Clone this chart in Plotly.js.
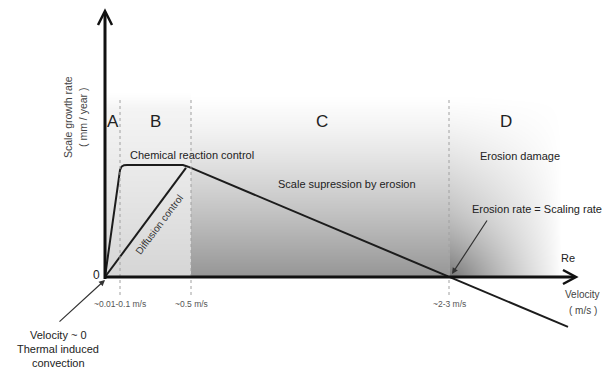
<!DOCTYPE html>
<html>
<head>
<meta charset="utf-8">
<script src="https://cdn.plot.ly/plotly-3.0.1.min.js"></script>
<style>html,body{margin:0;padding:0;background:#fff;}#chart{width:608px;height:369px;}</style>
</head>
<body>
<div id="chart"></div>
<script>
// ---- Schematic data (arbitrary units: velocity along x, growth rate along y) ----
const reactionX = [0, 0.14, 0.15, 0.165, 0.19, 0.22, 0.78, 0.83];
const reactionY = [0, 0.90, 0.955, 0.985, 0.998, 1.0, 1.0, 0.985];
const diffusionX = [0, 0.81];
const diffusionY = [0, 0.975];
const erosionX = [0.83, 3.44, 4.63];
const erosionY = [0.985, 0, -0.446];
const boundaryX = [0.15, 0.86, 3.44];
const boundaryLabels = ["~0.01-0.1 m/s", "~0.5 m/s", "~2-3 m/s"];
const regionLabels = ["A", "B", "C", "D"];
const regionX = [0.08, 0.50, 2.17, 4.01];

// pixel -> data helpers (layout placement only)
const X = px => (px - 105) / 100;
const Y = py => (277 - py) / 112;

// background shading image (decoration)
function shadeImage() {
  const x0 = 105, x1 = 570, y0 = 92, y1 = 277;
  const w = x1 - x0, h = y1 - y0;
  const c = document.createElement('canvas');
  c.width = w; c.height = h;
  const ctx = c.getContext('2d');
  const img = ctx.createImageData(w, h);
  for (let j = 0; j < h; j++) {
    const py = y0 + j;
    const t = Math.max(0, (py - 100) / 177);
    const topFade = Math.min(1, Math.max(0, (py - 92) / 16));
    for (let i = 0; i < w; i++) {
      const px = x0 + i;
      let dark;
      if (px < 191) {
        dark = (10 + 32 * Math.pow(t, 1.1)) * topFade;
      } else {
        dark = 104 * Math.pow(t, 1.25) + 2 * topFade;
        if (px > 449) {
          let f = Math.max(0, 1 - (px - 449) / 112);
          const r = Math.hypot(px - 452, (277 - py) * 1.2);
          const blob = Math.max(0, 1 - r / 90);
          dark = dark * Math.pow(f, 0.85) + 30 * blob * blob;
        }
      }
      const g = 255 - dark;
      const k = (j * w + i) * 4;
      img.data[k] = img.data[k + 1] = img.data[k + 2] = Math.round(g);
      img.data[k + 3] = 255;
    }
  }
  ctx.putImageData(img, 0, 0);
  return {url: c.toDataURL('image/png'), x: X(x0), y: Y(y0), sx: (x1 - x0) / 100, sy: (y1 - y0) / 112};
}
const bg = shadeImage();

const lineStyle = {color: '#1c1c1c', width: 2};
const traces = [
  {x: reactionX, y: reactionY, mode: 'lines', line: lineStyle, hoverinfo: 'skip', cliponaxis: false},
  {x: diffusionX, y: diffusionY, mode: 'lines', line: lineStyle, hoverinfo: 'skip', cliponaxis: false},
  {x: erosionX, y: erosionY, mode: 'lines', line: lineStyle, hoverinfo: 'skip', cliponaxis: false}
];

const font = 'Liberation Sans, Arial, sans-serif';
const txt = (text, px, py, size, extra) => Object.assign({
  text: text, x: X(px), y: Y(py), xref: 'x', yref: 'y', showarrow: false,
  font: {family: font, size: size, color: '#222'}, xanchor: 'center', yanchor: 'middle'
}, extra || {});

const annotations = [];
regionLabels.forEach((l, i) => annotations.push(Object.assign(txt(l, 0, 121, 17), {x: regionX[i]})));
boundaryLabels.forEach((l, i) => annotations.push(Object.assign(txt(l, 0, 304, 8.5, {font: {family: font, size: 8.5, color: '#555'}}), {x: boundaryX[i]})));
annotations.push(txt('0', 96, 275, 12));
annotations.push(txt('Scale growth rate', 68, 117, 10.5, {textangle: -90, font: {family: font, size: 10.5, color: '#444'}}));
annotations.push(txt('( mm / year )', 83, 117, 10.5, {textangle: -90, font: {family: font, size: 10.5, color: '#444'}}));
annotations.push(txt('Chemical reaction control', 192, 155, 11));
annotations.push(txt('Diffusion control', 159, 224, 10, {textangle: -53, font: {family: font, size: 10, color: '#333'}}));
annotations.push(txt('Scale supression by erosion', 347, 184, 11));
annotations.push(txt('Erosion damage', 520, 156, 11));
annotations.push(txt('Erosion rate = Scaling rate', 537, 209, 11));
annotations.push(txt('Re', 568, 258, 11));
annotations.push(txt('Velocity', 582, 294, 10, {font: {family: font, size: 10, color: '#444'}}));
annotations.push(txt('( m/s )', 583, 310, 10, {font: {family: font, size: 10, color: '#444'}}));
annotations.push(txt('Velocity ~ 0', 58, 335, 11));
annotations.push(txt('Thermal induced', 58, 349, 11));
annotations.push(txt('convection', 58, 363, 11));
// pointer arrows
annotations.push({x: X(105), y: Y(280), xref: 'x', yref: 'y', text: '', showarrow: true,
  ax: -47, ay: 43, arrowhead: 2, arrowsize: 1, arrowwidth: 1.2, arrowcolor: '#333', standoff: 0});
annotations.push({x: X(452), y: Y(274), xref: 'x', yref: 'y', text: '', showarrow: true,
  ax: 36, ay: -55, arrowhead: 2, arrowsize: 1, arrowwidth: 1.2, arrowcolor: '#333', standoff: 0});

const shapes = [];
boundaryX.forEach(bx => shapes.push({type: 'line', xref: 'x', yref: 'y', x0: bx, x1: bx, y0: Y(100), y1: Y(296),
  line: {color: '#a0a0a0', width: 1, dash: 'dot'}, layer: 'above'}));
// axes with open arrowheads
shapes.push({type: 'line', xref: 'x', yref: 'y', x0: 0, x1: 0, y0: Y(279), y1: Y(12), line: {color: '#111', width: 3}});
shapes.push({type: 'path', xref: 'x', yref: 'y', path: `M ${X(98)},${Y(25)} L ${X(105)},${Y(11)} L ${X(112)},${Y(25)}`, line: {color: '#111', width: 2.5}});
shapes.push({type: 'line', xref: 'x', yref: 'y', x0: X(104), x1: X(575), y0: 0, y1: 0, line: {color: '#111', width: 3}});
shapes.push({type: 'path', xref: 'x', yref: 'y', path: `M ${X(563)},${Y(270)} L ${X(576)},${Y(277)} L ${X(563)},${Y(284)}`, line: {color: '#111', width: 2.5}});

const layout = {
  width: 608, height: 369, autosize: false,
  margin: {l: 0, r: 0, t: 0, b: 0, pad: 0},
  paper_bgcolor: '#fff', plot_bgcolor: '#fff',
  showlegend: false,
  xaxis: {range: [X(0), X(608)], visible: false, fixedrange: true},
  yaxis: {range: [Y(369), Y(0)], visible: false, fixedrange: true},
  images: [{source: bg.url, xref: 'x', yref: 'y', x: bg.x, y: bg.y, sizex: bg.sx, sizey: bg.sy,
    xanchor: 'left', yanchor: 'top', sizing: 'stretch', layer: 'below'}],
  shapes: shapes,
  annotations: annotations
};

Plotly.newPlot('chart', traces, layout, {displayModeBar: false, staticPlot: true});
</script>
</body>
</html>
